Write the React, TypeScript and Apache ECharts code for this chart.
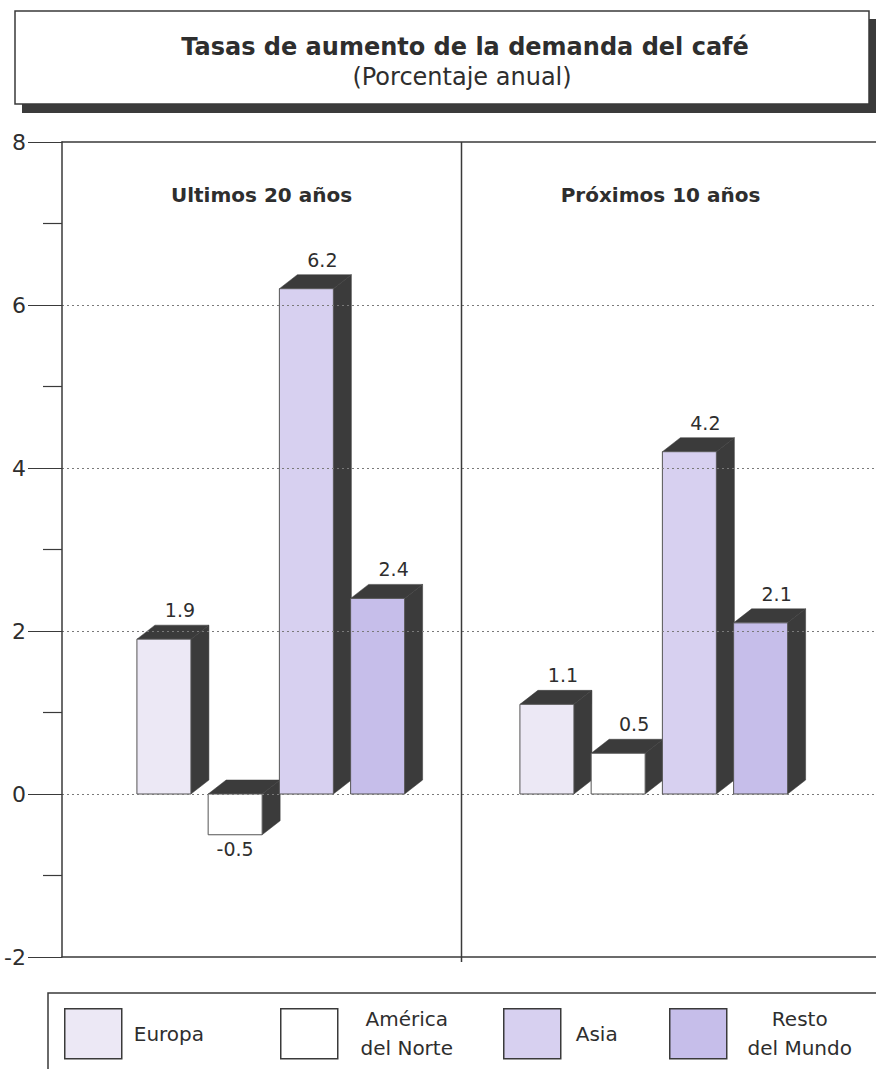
import React, { useEffect, useRef } from "react";
import * as echarts from "echarts";

// Periods (panels) and regions
const periods = ["Ultimos 20 años", "Próximos 10 años"];
const regions = ["Europa", "América del Norte", "Asia", "Resto del Mundo"];

// Annual growth of coffee demand (%), one value per period
const europa = [1.9, 1.1];
const americaNorte = [-0.5, 0.5];
const asia = [6.2, 4.2];
const restoMundo = [2.4, 2.1];

// Value axis
const yMin = -2;
const yMax = 8;
const yStep = 2;

// Legend wording
const legendLines = [["Europa"], ["América", "del Norte"], ["Asia"], ["Resto", "del Mundo"]];

const titleText = "Tasas de aumento de la demanda del café";
const subtitleText = "(Porcentaje anual)";

// Styling
const FONT = "DejaVu Sans";
const INK = "#2e2e2e";
const FRAME = "#3a3a3a";
const SHADE = "#3b3b3b";
const FACE_COLORS = ["#ECE8F5", "#FFFFFF", "#D7D0F0", "#C6BEEA"];

const W = 876;
const H = 1069;
const PLOT_LEFT = 62;
const PLOT_TOP = 142;
const PLOT_BOTTOM = 957;
const LABEL_AREA_RIGHT = 860;
const BAR_AREA_LEFT = 78.5;
const BAR_AREA_RIGHT = 844.5;

const BAR_W = 0.141; // fraction of the category band
const BAR_STEP = 0.186;
const BAR_SHIFT = 0.002;
const DEPTH_X = 18;
const DEPTH_Y = 14;

const seriesValues = [europa, americaNorte, asia, restoMundo];

const renderBar = (params: any, api: any) => {
  const cat = api.value(0);
  const val = api.value(1);
  const band = api.size([1, 0])[0];
  const base = api.coord([cat, 0]);
  const end = api.coord([cat, val]);
  const center = base[0] + (params.seriesIndex - 1.5) * BAR_STEP * band + BAR_SHIFT * band;
  const w = BAR_W * band;
  const x0 = center - w / 2;
  const x1 = center + w / 2;
  const top = Math.min(base[1], end[1]);
  const bottom = Math.max(base[1], end[1]);
  const fill = api.visual("color");
  const label = String(val);
  const labelPos =
    val >= 0
      ? { x: center + 16, y: top - DEPTH_Y - 15 }
      : { x: center, y: bottom + 14 };
  return {
    type: "group",
    children: [
      {
        type: "polygon",
        shape: {
          points: [
            [x1, top],
            [x1 + DEPTH_X, top - DEPTH_Y],
            [x1 + DEPTH_X, bottom - DEPTH_Y],
            [x1, bottom],
          ],
        },
        style: { fill: SHADE, stroke: SHADE, lineWidth: 0.5 },
      },
      {
        type: "polygon",
        shape: {
          points: [
            [x0, top],
            [x0 + DEPTH_X, top - DEPTH_Y],
            [x1 + DEPTH_X, top - DEPTH_Y],
            [x1, top],
          ],
        },
        style: { fill: SHADE, stroke: SHADE, lineWidth: 0.5 },
      },
      {
        type: "rect",
        shape: { x: x0, y: top, width: w, height: bottom - top },
        style: { fill, stroke: "#555555", lineWidth: 1 },
      },
      {
        type: "text",
        style: {
          text: label,
          x: labelPos.x,
          y: labelPos.y,
          align: "center",
          verticalAlign: "middle",
          fontSize: 19,
          fontFamily: FONT,
          fill: INK,
        },
      },
    ],
  };
};

const legendSlots = [
  { left: 64, rich: { padding: [0, 0, 0, 7] } },
  { left: 280, rich: { width: 128, align: "center", lineHeight: 29 } },
  { left: 503, rich: { padding: [0, 0, 0, 10] } },
  { left: 669, rich: { width: 136, align: "center", lineHeight: 29 } },
];

const frameAxis = (position: "top" | "bottom") => ({
  gridIndex: 0,
  type: "value",
  min: 0,
  max: 1,
  position,
  z: 4,
  axisLine: { show: true, onZero: false, lineStyle: { color: FRAME, width: 1.5 } },
  axisTick: { show: false },
  axisLabel: { show: false },
  splitLine: { show: false },
});

const plotBox = { top: PLOT_TOP, bottom: H - PLOT_BOTTOM };

const option: any = {
  animation: false,
  backgroundColor: "#ffffff",
  grid: [
    // outer frame, value axis and grid lines
    { left: PLOT_LEFT, right: 0, ...plotBox },
    // period headings
    { left: PLOT_LEFT, right: W - LABEL_AREA_RIGHT, ...plotBox },
    // bars
    { left: BAR_AREA_LEFT, right: W - BAR_AREA_RIGHT, ...plotBox },
  ],
  xAxis: [
    frameAxis("bottom"),
    frameAxis("top"),
    {
      gridIndex: 1,
      type: "category",
      data: periods,
      position: "top",
      axisLine: { show: false },
      axisTick: { show: false },
      splitLine: { show: false },
      axisLabel: {
        inside: true,
        margin: 43,
        fontSize: 20,
        fontWeight: "bold",
        fontFamily: FONT,
        color: INK,
      },
    },
    {
      gridIndex: 2,
      type: "category",
      data: periods,
      show: false,
    },
  ],
  yAxis: [
    {
      gridIndex: 0,
      type: "value",
      min: yMin,
      max: yMax,
      interval: yStep,
      position: "left",
      z: 3,
      axisLine: { show: true, onZero: false, lineStyle: { color: FRAME, width: 1.5 } },
      axisTick: { show: true, length: 34, lineStyle: { color: FRAME, width: 1.2 } },
      minorTick: { show: true, splitNumber: 2, length: 19, lineStyle: { color: FRAME, width: 1.2 } },
      axisLabel: { margin: 36, fontSize: 22, fontFamily: FONT, color: INK },
      splitLine: {
        show: true,
        showMinLine: false,
        showMaxLine: false,
        lineStyle: { color: "#7a7a7a", width: 1, type: [2, 3] },
      },
    },
    { gridIndex: 1, type: "value", min: yMin, max: yMax, interval: yStep, show: false },
    { gridIndex: 2, type: "value", min: yMin, max: yMax, interval: yStep, show: false },
  ],
  legend: legendSlots.map((slot, i) => ({
    data: [regions[i]],
    left: slot.left,
    top: 1008,
    orient: "horizontal",
    padding: 0,
    itemWidth: 57,
    itemHeight: 50,
    icon: "rect",
    selectedMode: false,
    itemStyle: { color: FACE_COLORS[i], borderColor: FRAME, borderWidth: 1.5 },
    formatter: () => legendLines[i].map((l) => `{t|${l}}`).join("\n"),
    textStyle: {
      fontSize: 20,
      fontFamily: FONT,
      color: INK,
      rich: { t: { fontSize: 20, fontFamily: FONT, color: INK, ...slot.rich } },
    },
  })),
  graphic: [
    // title box with its drop shadow
    {
      type: "rect",
      shape: { x: 22, y: 19, width: 855, height: 94 },
      style: { fill: SHADE },
      z: 0,
    },
    {
      type: "rect",
      shape: { x: 15, y: 11, width: 854, height: 93 },
      style: { fill: "#ffffff", stroke: FRAME, lineWidth: 1.5 },
      z: 1,
    },
    {
      type: "text",
      x: 465,
      y: 47,
      z: 2,
      style: {
        text: titleText,
        align: "center",
        verticalAlign: "middle",
        fontSize: 24,
        fontWeight: "bold",
        fontFamily: FONT,
        fill: INK,
      },
    },
    {
      type: "text",
      x: 462,
      y: 77,
      z: 2,
      style: {
        text: subtitleText,
        align: "center",
        verticalAlign: "middle",
        fontSize: 24,
        fontFamily: FONT,
        fill: INK,
      },
    },
    // divider between the two periods
    {
      type: "line",
      shape: {
        x1: (BAR_AREA_LEFT + BAR_AREA_RIGHT) / 2,
        y1: PLOT_TOP,
        x2: (BAR_AREA_LEFT + BAR_AREA_RIGHT) / 2,
        y2: PLOT_BOTTOM + 5,
      },
      style: { stroke: FRAME, lineWidth: 1.5 },
      z: 5,
    },
    // legend frame
    {
      type: "rect",
      shape: { x: 48, y: 993, width: 860, height: 100 },
      style: { fill: "none", stroke: FRAME, lineWidth: 1.5 },
      z: 0,
    },
  ],
  series: regions.map((name, i) => ({
    type: "custom",
    name,
    xAxisIndex: 3,
    yAxisIndex: 2,
    clip: false,
    z: 2,
    itemStyle: { color: FACE_COLORS[i] },
    encode: { x: 0, y: 1 },
    renderItem: renderBar,
    data: periods.map((p, j) => [p, seriesValues[i][j]]),
  })),
};

export default function App() {
  const ref = useRef<HTMLDivElement>(null);
  useEffect(() => {
    if (!ref.current) return;
    const chart = echarts.init(ref.current, undefined, { renderer: "svg" });
    chart.setOption(option);
    return () => chart.dispose();
  }, []);
  return (
    <div
      ref={ref}
      style={{ position: "absolute", left: 0, top: 0, width: W, height: H, background: "#fff" }}
    />
  );
}
